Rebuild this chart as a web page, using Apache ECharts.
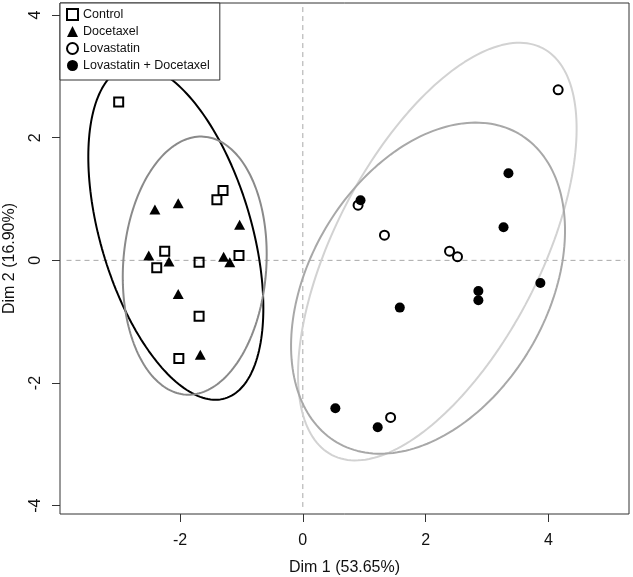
<!DOCTYPE html>
<html><head><meta charset="utf-8">
<script src="https://cdn.jsdelivr.net/npm/echarts@6/dist/echarts.min.js"></script>
<style>html,body{margin:0;padding:0;background:#fff}#c{width:633px;height:577px}</style>
</head><body><div id="c"></div>
<script>
// ---- data ----
const groups = ['Control', 'Docetaxel', 'Lovastatin', 'Lovastatin + Docetaxel'];
const control = [[-3.00,2.58],[-1.30,1.14],[-1.40,0.99],[-2.25,0.15],[-2.38,-0.12],[-1.69,-0.03],[-1.04,0.08],[-1.69,-0.91],[-2.02,-1.60]];
const docetaxel = [[-2.41,0.83],[-2.03,0.93],[-1.03,0.58],[-2.51,0.08],[-2.18,-0.02],[-1.29,0.06],[-1.19,-0.03],[-2.03,-0.55],[-1.67,-1.54]];
const lovastatin = [[4.16,2.78],[0.90,0.90],[1.33,0.41],[2.39,0.15],[2.52,0.06],[1.43,-2.56]];
const combo = [[0.94,0.98],[3.35,1.42],[3.27,0.54],[3.87,-0.37],[2.86,-0.50],[2.86,-0.65],[1.58,-0.77],[0.53,-2.41],[1.22,-2.72]];
// confidence ellipses: center, semi-axes, rotation (deg)
const ellipseCenter = [[-2.069,0.456],[-1.761,-0.086],[2.191,0.143],[2.040,-0.453]];
const ellipseSemiAxes = [[2.822,1.230],[2.108,1.166],[3.734,1.673],[2.920,1.934]];
const ellipseAngleDeg = [106.5, 86.0, 62.65, 59.4];
const xRange = [-3.956, 5.314];
const yRange = [-4.135, 4.196];
const xTicks = [-2, 0, 2, 4];
const yTicks = [-4, -2, 0, 2, 4];
const hRefLine = [[-3.85,0],[5.25,0]];
const vRefLine = [[0,4.13],[0,-4.02]];
const xName = 'Dim 1 (53.65%)';
const yName = 'Dim 2 (16.90%)';

// ---- styles ----
const FONT = "'Liberation Sans', Arial, sans-serif";
const ellipseColors = ['#000000', '#8a8a8a', '#d2d2d2', '#a8a8a8'];

function ellipsePoints(i) {
  const [cx, cy] = ellipseCenter[i];
  const [a, b] = ellipseSemiAxes[i];
  const t = ellipseAngleDeg[i] * Math.PI / 180;
  const pts = [];
  for (let k = 0; k <= 200; k++) {
    const s = 2 * Math.PI * k / 200;
    const u = a * Math.cos(s), v = b * Math.sin(s);
    pts.push([cx + u * Math.cos(t) - v * Math.sin(t), cy + u * Math.sin(t) + v * Math.cos(t)]);
  }
  return pts;
}

const refStyle = { color: '#a8a8a8', width: 1, type: [5, 4] };
const series = [
  { type: 'line', name: 'h0', data: hRefLine, showSymbol: false, silent: true, lineStyle: refStyle, z: 1 },
  { type: 'line', name: 'v0', data: vRefLine, showSymbol: false, silent: true, lineStyle: refStyle, z: 1 }
];
for (let i = 0; i < 4; i++) {
  series.push({ type: 'line', name: 'ell' + i, data: ellipsePoints(i), showSymbol: false, silent: true,
    lineStyle: { color: ellipseColors[i], width: 2 }, z: 2 });
}
series.push(
  { type: 'scatter', name: groups[0], data: control, symbol: 'rect', symbolSize: 9,
    itemStyle: { color: 'rgba(255,255,255,0)', borderColor: '#000', borderWidth: 2, opacity: 1 }, z: 5 },
  { type: 'scatter', name: groups[1], data: docetaxel, symbol: 'triangle', symbolSize: [11, 10],
    itemStyle: { color: '#000', opacity: 1 }, z: 5 },
  { type: 'scatter', name: groups[2], data: lovastatin, symbol: 'circle', symbolSize: 9,
    itemStyle: { color: 'rgba(255,255,255,0)', borderColor: '#000', borderWidth: 2, opacity: 1 }, z: 5 },
  { type: 'scatter', name: groups[3], data: combo, symbol: 'circle', symbolSize: 10,
    itemStyle: { color: '#000', opacity: 1 }, z: 5 }
);

const chart = echarts.init(document.getElementById('c'), null, { renderer: 'canvas' });
chart.setOption({
  animation: false,
  backgroundColor: '#fff',
  grid: { left: 60, top: 3, right: 4, bottom: 63, containLabel: false, outerBoundsMode: 'none',
    show: true, borderColor: '#333', borderWidth: 1, backgroundColor: 'transparent' },
  legend: {
    data: groups, orient: 'vertical', left: 60, top: 3,
    padding: [5, 10, 8, 6], itemGap: 4, itemWidth: 11, itemHeight: 11,
    backgroundColor: '#fff', borderColor: '#333', borderWidth: 1, borderRadius: 0,
    textStyle: { fontFamily: FONT, fontSize: 12.5, color: '#111', padding: [0,0,0,0] }
  },
  xAxis: {
    type: 'value', min: xRange[0], max: xRange[1],
    splitLine: { show: false }, axisLine: { show: false, onZero: false },
    axisTick: { show: true, length: 8, lineStyle: { color: '#333' }, customValues: xTicks },
    axisLabel: { fontFamily: FONT, fontSize: 16, color: '#111', margin: 19, customValues: xTicks, formatter: v => String(v) },
    name: xName, nameLocation: 'middle', nameGap: 46,
    nameTextStyle: { fontFamily: FONT, fontSize: 16, color: '#111' }
  },
  yAxis: {
    type: 'value', min: yRange[0], max: yRange[1],
    splitLine: { show: false }, axisLine: { show: false, onZero: false },
    axisTick: { show: true, length: 8, lineStyle: { color: '#333' }, customValues: yTicks },
    axisLabel: { fontFamily: FONT, fontSize: 16, color: '#111', margin: 16, rotate: 90, customValues: yTicks, formatter: v => String(v) },
    name: yName, nameLocation: 'middle', nameGap: 42, nameRotate: 90,
    nameTextStyle: { fontFamily: FONT, fontSize: 16, color: '#111' }
  },
  series: series
});
</script></body></html>
